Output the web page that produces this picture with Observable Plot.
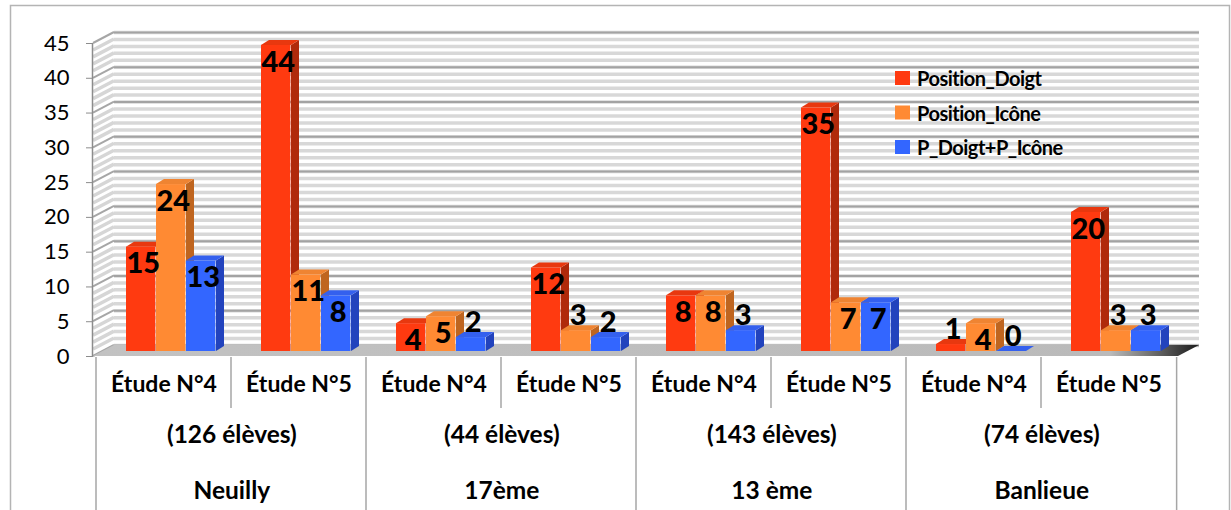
<!DOCTYPE html>
<html>
<head>
<meta charset="utf-8">
<script src="https://cdn.jsdelivr.net/npm/d3@7"></script>
<script src="https://cdn.jsdelivr.net/npm/@observablehq/plot@0.6"></script>
<style>
  html, body { margin: 0; padding: 0; background: #fff; }
  #chart { width: 1231px; height: 510px; overflow: hidden; }
</style>
</head>
<body>
<div id="chart"></div>
<script>
// ---- data ----
const groups = ["Neuilly", "17ème", "13 ème", "Banlieue"];
const groupCounts = ["(126 élèves)", "(44 élèves)", "(143 élèves)", "(74 élèves)"];
const studies = ["Étude N°4", "Étude N°5"];
const series = ["Position_Doigt", "Position_Icône", "P_Doigt+P_Icône"];
const positionDoigt = [15, 44, 4, 12, 8, 35, 1, 20];
const positionIcone = [24, 11, 5, 3, 8, 7, 4, 3];
const pDoigtIcone   = [13, 8, 2, 2, 3, 7, 0, 3];
const yTicks = [0, 5, 10, 15, 20, 25, 30, 35, 40, 45];

// ---- styles ----
const frontColors = ["#ff3a10", "#ff8a33", "#3366ff"];
const sideColors  = ["#b02a0b", "#bf651f", "#2243bd"];
const topColors   = ["#e8380f", "#ef8432", "#3460ee"];

// ---- build tables ----
const cells = [];
groups.forEach((g, gi) => studies.forEach((s, si) => cells.push({key: g + "|" + s, group: g, study: s, gi})));
const keys = cells.map(d => d.key);
const valueSeries = [positionDoigt, positionIcone, pDoigtIcone];
const rows = [];
valueSeries.forEach((vals, s) => vals.forEach((v, k) => rows.push({key: keys[k], s, value: v})));
const groupRows = groups.map((g, gi) => ({name: g, count: groupCounts[gi], firstKey: keys[gi * 2]}));

// ---- layout ----
const W = 1231, H = 510, ML = 93, MR = 53, MT = 43, MB = 154;
const bw = (W - ML - MR) / keys.length;
const BAR_OFF = 30, BAR_W = 30, BAR_DY = -5;  // bar placement inside a band
const DX = 8, DY = -5;                         // bar depth
const WALL_DX = 21, WALL_DY = -11;             // wall depth
const FONT = "Lato, 'Open Sans', sans-serif";
const NS = "http://www.w3.org/2000/svg";
function el(tag, attrs, parent) {
  const e = document.createElementNS(NS, tag);
  for (const k in attrs) e.setAttribute(k, attrs[k]);
  if (parent) parent.appendChild(e);
  return e;
}

// outer frame
const outerFrame = () => {
  const g = el("g", {});
  el("rect", {x: 10.5, y: 5.5, width: 1219, height: 560, fill: "none", stroke: "#b4b4b4", "stroke-width": 1.5}, g);
  return g;
};

// left wall + floor
const walls = (index, {x, y}) => {
  const g = el("g", {});
  const x0 = ML, x1 = W - MR;
  const y0 = y(0), yTop = y(45);
  for (let v = 0; v <= 45; v++) {
    const major = v % 5 === 0;
    el("line", {x1: x0, y1: y(v), x2: x0 + WALL_DX, y2: y(v) + WALL_DY,
      stroke: major ? "#a6a6a6" : "#d6d6d6", "stroke-width": major ? 2 : 3.5}, g);
  }
  const defs = el("defs", {}, g);
  const grad = el("linearGradient", {id: "floorShade", x1: "0", x2: "1", y1: "0", y2: "0"}, defs);
  el("stop", {offset: "0", "stop-color": "#c2c2c2"}, grad);
  el("stop", {offset: "0.92", "stop-color": "#bababa"}, grad);
  el("stop", {offset: "0.97", "stop-color": "#555"}, grad);
  el("stop", {offset: "1", "stop-color": "#1a1a1a"}, grad);
  el("polygon", {points: `${x0},${y0} ${x0 + WALL_DX},${y0 + WALL_DY} ${x1 + WALL_DX},${y0 + WALL_DY} ${x1},${y0}`,
    fill: "url(#floorShade)"}, g);
  el("line", {x1: x0 - 0.5, y1: yTop, x2: x0 - 0.5, y2: y0, stroke: "#8c8c8c", "stroke-width": 1.5}, g);
  return g;
};

// bar side/top faces for one series
const faces = (si) => (index, {x, y}) => {
  const g = el("g", {});
  rows.filter(d => d.s === si).forEach(d => {
    const xa = x(d.key) + BAR_OFF + BAR_W * si, xb = xa + BAR_W;
    const yt = y(d.value) + BAR_DY, yb = y(0) + BAR_DY;
    el("polygon", {points: `${xb},${yt} ${xb + DX},${yt + DY} ${xb + DX},${yb + DY} ${xb},${yb}`, fill: sideColors[si]}, g);
    el("polygon", {points: `${xa},${yt} ${xa + DX},${yt + DY} ${xb + DX},${yt + DY} ${xb},${yt}`, fill: topColors[si]}, g);
  });
  return g;
};

// legend
const legend = () => {
  const g = el("g", {"font-family": FONT, "text-anchor": "start"});
  series.forEach((s, i) => {
    el("rect", {x: 895, y: 71 + i * 34.5, width: 15, height: 14, fill: frontColors[i]}, g);
    const t = el("text", {x: 917, y: 78 + i * 34.5, "dominant-baseline": "central", "font-size": 20,
      "font-weight": "bold", "letter-spacing": "-0.5", "text-anchor": "start", fill: "#000"}, g);
    t.textContent = s;
  });
  return g;
};

// table grid lines
const tableLines = (index, {x}) => {
  const g = el("g", {});
  const top = H - MB + 1;
  for (let k = 0; k <= keys.length; k++) {
    const xp = k < keys.length ? x(keys[k]) : x(keys[k - 1]) + bw;
    const inner = k % 2 === 1;
    el("line", {x1: xp, y1: top, x2: xp, y2: inner ? 408 : 520, stroke: "#a6a6a6", "stroke-width": 1.5}, g);
  }
  return g;
};

const marks = [
  outerFrame,
  Plot.ruleY(d3.range(0, 46), {dx: WALL_DX, dy: WALL_DY, stroke: "#d8d8d8", strokeWidth: 3.5}),
  Plot.ruleY(yTicks, {dx: WALL_DX, dy: WALL_DY, stroke: "#a3a3a3", strokeWidth: 2}),
  walls
];
series.forEach((s, si) => {
  const data = rows.filter(d => d.s === si);
  marks.push(faces(si));
  marks.push(Plot.barY(data, {x: "key", y: "value", fill: frontColors[si], dy: BAR_DY,
    insetLeft: BAR_OFF + BAR_W * si, insetRight: bw - BAR_OFF - BAR_W * (si + 1)}));
});
series.forEach((s, si) => {
  const dx = BAR_OFF + BAR_W * si + BAR_W / 2 - bw / 2 + 2;
  marks.push(Plot.text(rows.filter(d => d.s === si && d.value >= 4), {x: "key", y: "value", text: d => String(d.value),
    dx, dy: BAR_DY + 17, fontSize: 29, fontWeight: 900, fill: "#000"}));
  marks.push(Plot.text(rows.filter(d => d.s === si && d.value < 4), {x: "key", y: "value", text: d => String(d.value),
    dx, dy: BAR_DY - 15, fontSize: 29, fontWeight: 900, fill: "#000"}));
});
marks.push(legend);
marks.push(tableLines);
marks.push(Plot.text(cells, {x: "key", text: "study", frameAnchor: "bottom", dy: 35, fontSize: 23, fontWeight: "bold", fill: "#000"}));
marks.push(Plot.text(groupRows, {x: "firstKey", text: "count", frameAnchor: "bottom", dx: bw / 2, dy: 86, fontSize: 24.5, fontWeight: "bold", fill: "#000"}));
marks.push(Plot.text(groupRows, {x: "firstKey", text: "name", frameAnchor: "bottom", dx: bw / 2, dy: 142, fontSize: 24.5, fontWeight: "bold", fill: "#000"}));
marks.push(Plot.axisY(yTicks, {tickSize: 7, tickPadding: 17, fontSize: 22, stroke: "#8c8c8c", fill: "#000", label: null}));

const chart = Plot.plot({
  width: W, height: H,
  marginLeft: ML, marginRight: MR, marginTop: MT, marginBottom: MB,
  x: {type: "band", domain: keys, padding: 0, axis: null},
  y: {domain: [0, 45]},
  style: {fontFamily: FONT, fontSize: "21px", background: "transparent", color: "#000"},
  marks
});
document.getElementById("chart").appendChild(chart);
</script>
</body>
</html>
